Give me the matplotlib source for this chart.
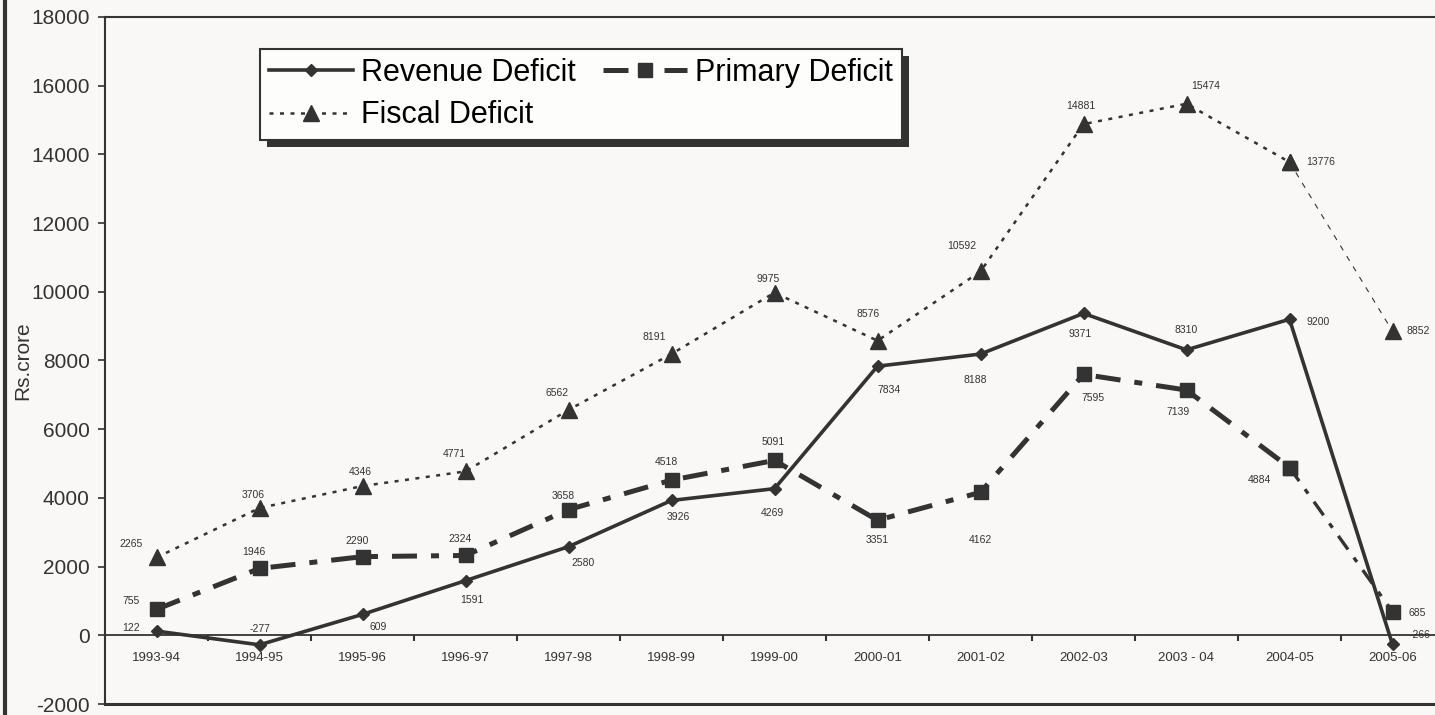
import matplotlib
matplotlib.use("Agg")
import matplotlib.pyplot as plt
from matplotlib.lines import Line2D
from matplotlib.patches import Rectangle

plt.rcParams['font.family'] = ['Liberation Sans', 'DejaVu Sans']
plt.rcParams['axes.unicode_minus'] = False

years = ['1993-94', '1994-95', '1995-96', '1996-97', '1997-98', '1998-99', '1999-00',
         '2000-01', '2001-02', '2002-03', '2003 - 04', '2004-05', '2005-06']
revenue = [122, -277, 609, 1591, 2580, 3926, 4269, 7834, 8188, 9371, 8310, 9200, -266]
primary = [755, 1946, 2290, 2324, 3658, 4518, 5091, 3351, 4162, 7595, 7139, 4884, 685]
fiscal = [2265, 3706, 4346, 4771, 6562, 8191, 9975, 8576, 10592, 14881, 15474, 13776, 8852]

# label offsets in pixels (dx, dy), dy positive = up
rev_off = [(-25, 3), (0, 16), (16, -13), (6, -19), (15, -16), (7, -17), (-2, -24),
           (11, -24), (-5, -26), (-3, -21), (0, 20), (29, -3), (27, 9)]
pri_off = [(-25, 8), (-6, 16), (-5, 16), (-5, 16), (-5, 14), (-5, 18), (-1, 18),
           (0, -20), (0, -48), (10, -24), (-8, -22), (-30, -12), (25, -1)]
fis_off = [(-25, 13), (-6, 13), (-2, 14), (-11, 17), (-11, 17), (-17, 17), (-6, 14),
           (-9, 27), (-19, 25), (-3, 18), (19, 18), (31, 0), (26, 0)]

dark = '#333333'
bg = '#f9f8f6'

fig = plt.figure(figsize=(14.35, 7.15), dpi=100, facecolor=bg)
ax = fig.add_axes([105 / 1435, 11 / 715, 1339 / 1435, 687 / 715])
ax.set_facecolor(bg)

x = list(range(len(years)))

ax.plot(x, revenue, color=dark, lw=2.6, marker='D', ms=6.5, mfc=dark, mec=dark,
        label='Revenue Deficit', zorder=4)
ax.plot(x[:-1], primary[:-1], color=dark, lw=3.6, dashes=(5, 2.8, 1.6, 2.8), marker='s',
        ms=9.5, mfc=dark, mec=dark, label='Primary Deficit', zorder=3)
ax.plot(x[-2:], primary[-2:], color=dark, lw=2.4, dashes=(5, 3, 1.6, 3), marker='s',
        ms=9.5, mfc=dark, mec=dark, zorder=3)
ax.plot(x[:-1], fiscal[:-1], color=dark, lw=1.8, dashes=(1.6, 2.6), marker='^',
        ms=11, mfc=dark, mec=dark, label='Fiscal Deficit', zorder=3)
ax.plot(x[-2:], fiscal[-2:], color=dark, lw=0.8, dashes=(5, 6), marker='^',
        ms=11, mfc=dark, mec=dark, zorder=3)

for series, offs in ((revenue, rev_off), (primary, pri_off), (fiscal, fis_off)):
    for i, (v, o) in enumerate(zip(series, offs)):
        ax.annotate(str(v), (i, v), xytext=o, textcoords='offset pixels',
                    ha='center', va='center', fontsize=7.5, color=dark,
                    annotation_clip=False)

ax.set_xlim(-0.5, 12.5)
ax.set_ylim(-2000, 18000)
ax.set_yticks(range(-2000, 18001, 2000))
ax.set_xticks(x)
ax.set_xticklabels(years)
ax.set_xticks([i + 0.5 for i in range(12)], minor=True)
ax.tick_params(axis='x', which='major', length=0, pad=12, labelsize=9.5, labelcolor=dark)
ax.tick_params(axis='x', which='minor', length=4, width=1.5, color=dark, direction='out')
ax.tick_params(axis='y', length=5, width=1.2, color=dark, pad=6, labelsize=15, labelcolor=dark)

ax.spines['bottom'].set_position(('data', 0))
ax.spines['bottom'].set_color(dark)
ax.spines['bottom'].set_linewidth(1.3)
ax.spines['left'].set_color(dark)
ax.spines['left'].set_linewidth(1.5)
ax.spines['top'].set_color(dark)
ax.spines['top'].set_linewidth(1.5)
ax.spines['right'].set_visible(False)
ax.axhline(-2000, color=dark, lw=2.2, clip_on=False, zorder=2)

ax.set_ylabel('Rs.crore', fontsize=15, color=dark)
ax.yaxis.set_label_coords(-73 / 1339, 0.5)

h, l = ax.get_legend_handles_labels()
leg = ax.legend([h[0], h[2], h[1]], [l[0], l[2], l[1]], ncol=2,
                loc='upper left', bbox_to_anchor=(155 / 1339, 1 - 32 / 687),
                prop={'size': 22},
                frameon=True, fancybox=False, framealpha=1, facecolor='#fdfdfc',
                edgecolor=dark, handlelength=2.75, handletextpad=0.25, columnspacing=0.9,
                labelspacing=0.4, borderpad=0.3, borderaxespad=0)
leg.get_frame().set_linewidth(1.5)
leg.set_zorder(6)

# thick border on left edge
fig.add_artist(Line2D([0.0035, 0.0035], [0, 1], color=dark, lw=3, transform=fig.transFigure))

fig.canvas.draw()
bb = leg.get_window_extent()
ax.add_patch(Rectangle((bb.x0 + 7, bb.y0 - 7), bb.width, bb.height, transform=None,
                       facecolor=dark, edgecolor='none', zorder=5.9, clip_on=False))

fig.savefig('out.png', dpi=100, facecolor=bg)
